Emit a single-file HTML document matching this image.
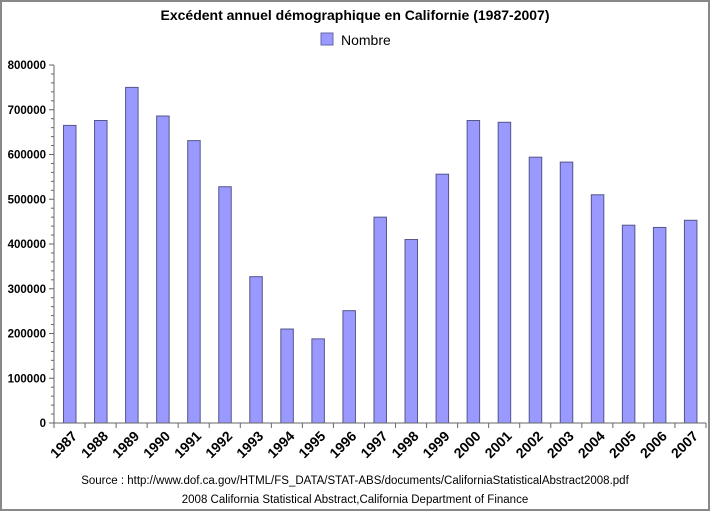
<!DOCTYPE html>
<html><head><meta charset="utf-8"><style>body{margin:0;background:#fff}svg{display:block}</style></head><body>
<svg width="711" height="512" xmlns="http://www.w3.org/2000/svg" font-family="Liberation Sans, sans-serif">
<rect x="0" y="0" width="711" height="512" fill="#fff"/>
<rect x="1" y="1" width="708" height="509" fill="none" stroke="#888" stroke-width="2"/>
<text x="355" y="20" text-anchor="middle" font-size="14" font-weight="bold">Excédent annuel démographique en Californie (1987-2007)</text>
<rect x="321" y="33" width="12" height="12" fill="#9999ff" stroke="#6666aa"/>
<text x="341" y="45" font-size="14">Nombre</text>
<g id="bars" fill="#9999ff" stroke="#55558a" stroke-width="1"></g>
<g id="ax" stroke="#666" stroke-width="1" fill="none"></g>
<g id="lbl" font-size="14" font-weight="bold" fill="#000"></g>
<text x="355" y="484" text-anchor="middle" font-size="11.5">Source : http://www.dof.ca.gov/HTML/FS_DATA/STAT-ABS/documents/CaliforniaStatisticalAbstract2008.pdf</text>
<text x="355" y="503" text-anchor="middle" font-size="11.5">2008 California Statistical Abstract,California Department of Finance</text>
<script>
var v=[665,676,750,686,631,528,327,210,188,251,460,410,556,676,672,594,583,510,442,437,453];
var ns="http://www.w3.org/2000/svg",X0=54,Y0=423,H=358,W=652/21;
function el(p,t,a,tx){var e=document.createElementNS(ns,t);for(var k in a)e.setAttribute(k,a[k]);if(tx)e.textContent=tx;document.getElementById(p).appendChild(e);}
v.forEach(function(d,i){var h=d*1000/800000*H,x=X0+i*W+9;
el("bars","rect",{x:x+0.5,y:Y0-h,width:12.5,height:h});
el("lbl","text",{x:0,y:0,"text-anchor":"end",transform:"translate("+(X0+i*W+24)+","+(Y0+14)+") rotate(-45)"},String(1987+i));});
el("ax","path",{d:"M"+X0+" 65V"+Y0+"H706"});
for(var j=0;j<=8;j++){var y=Y0-j*H/8;el("ax","path",{d:"M"+(X0-5)+" "+y+"H"+X0});
el("lbl","text",{x:X0-8,y:y+4,"text-anchor":"end","font-size":"11.5"},String(j*100000));
if(j<8)for(var m=1;m<5;m++){var ym=y-m*H/40;el("ax","path",{d:"M"+(X0-3)+" "+ym+"H"+X0});}}
for(var i=0;i<=21;i++){var x=X0+i*W;el("ax","path",{d:"M"+x+" "+Y0+"V"+(Y0+5)});}
</script>
</svg>
</body></html>
